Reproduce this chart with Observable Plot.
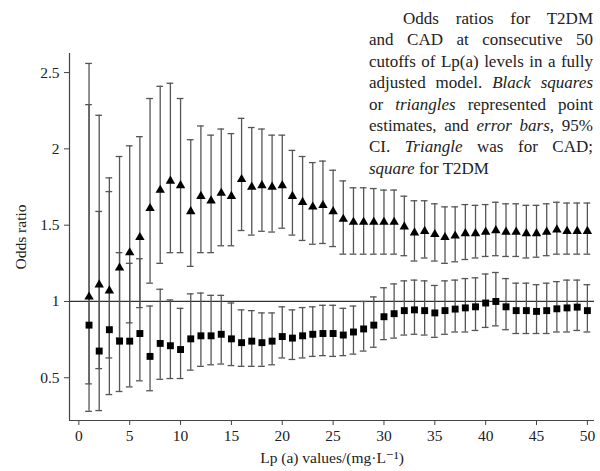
<!DOCTYPE html>
<html>
<head>
<meta charset="utf-8">
<script src="https://cdn.jsdelivr.net/npm/d3@7"></script>
<script src="https://cdn.jsdelivr.net/npm/@observablehq/plot@0.6"></script>
<style>
  html, body { margin: 0; padding: 0; background: #fff; }
  #wrap { position: relative; width: 600px; height: 471px; }
  #caption {
    position: absolute; left: 369px; top: 8px; width: 224px;
    font-family: "Liberation Serif", "DejaVu Serif", serif; font-size: 17px;
    line-height: 21.4px; color: #222;
  }
  #caption .ln { text-align: justify; text-align-last: justify; white-space: nowrap; }
  #caption .ln.first { margin-left: 34px; }
  #caption .ln.last { text-align: left; text-align-last: left; }
</style>
</head>
<body>
<div id="wrap">
  <div id="chart"></div>
  <div id="caption">
    <div class="ln first">Odds ratios for T2DM</div>
    <div class="ln">and CAD at consecutive 50</div>
    <div class="ln">cutoffs of Lp(a) levels in a fully</div>
    <div class="ln">adjusted model. <i>Black squares</i></div>
    <div class="ln">or <i>triangles</i> represented point</div>
    <div class="ln">estimates, and <i>error bars</i>, 95%</div>
    <div class="ln">CI. <i>Triangle</i> was for CAD;</div>
    <div class="ln last"><i>square</i> for T2DM</div>
  </div>
</div>
<script>
const cutoffs = d3.range(1, 51);

// CAD (triangles)
const cadOR = [1.03,1.11,1.07,1.22,1.32,1.42,1.61,1.73,1.79,1.76,
               1.59,1.69,1.66,1.71,1.69,1.80,1.75,1.76,1.75,1.76,
               1.69,1.65,1.62,1.63,1.59,1.54,1.52,1.52,1.52,1.52,
               1.52,1.49,1.45,1.46,1.44,1.42,1.43,1.445,1.445,1.455,
               1.465,1.455,1.455,1.445,1.445,1.455,1.47,1.46,1.46,1.46];
const cadHi = [2.29,2.22,1.81,1.95,2.02,2.08,2.33,2.41,2.43,2.33,
               2.06,2.15,2.09,2.13,2.10,2.20,2.14,2.13,2.09,2.09,
               1.99,1.95,1.91,1.92,1.86,1.79,1.745,1.745,1.74,1.73,
               1.73,1.69,1.66,1.66,1.64,1.62,1.62,1.635,1.63,1.635,
               1.65,1.64,1.64,1.63,1.63,1.64,1.65,1.645,1.645,1.645];
const cadLo = [0.46,0.56,0.63,0.76,0.86,0.96,1.12,1.25,1.32,1.32,
               1.23,1.32,1.32,1.365,1.365,1.465,1.435,1.46,1.455,1.48,
               1.435,1.40,1.375,1.38,1.36,1.31,1.31,1.31,1.31,1.31,
               1.31,1.30,1.265,1.285,1.265,1.25,1.26,1.275,1.285,1.295,
               1.30,1.295,1.295,1.285,1.29,1.30,1.31,1.31,1.31,1.31];

// T2DM (squares)
const t2OR = [0.845,0.675,0.815,0.74,0.74,0.79,0.64,0.725,0.71,0.685,
              0.755,0.775,0.775,0.785,0.755,0.73,0.74,0.73,0.74,0.77,
              0.76,0.775,0.785,0.79,0.79,0.78,0.80,0.82,0.845,0.90,
              0.92,0.94,0.945,0.94,0.925,0.94,0.95,0.958,0.965,0.99,
              1.00,0.965,0.94,0.94,0.935,0.94,0.952,0.958,0.963,0.94];
const t2Hi = [2.56,1.59,1.72,1.32,1.25,1.28,0.97,1.08,1.01,0.955,
              1.05,1.055,1.04,1.04,0.99,0.945,0.94,0.925,0.925,0.965,
              0.945,0.96,0.965,0.975,0.975,0.955,0.97,1.00,1.03,1.09,
              1.115,1.135,1.14,1.135,1.105,1.135,1.14,1.15,1.155,1.18,
              1.19,1.15,1.12,1.12,1.11,1.12,1.13,1.14,1.14,1.11];
const t2Lo = [0.28,0.285,0.39,0.41,0.44,0.48,0.415,0.49,0.495,0.495,
              0.55,0.575,0.585,0.59,0.58,0.575,0.575,0.575,0.585,0.63,
              0.62,0.63,0.64,0.645,0.64,0.645,0.655,0.675,0.70,0.75,
              0.76,0.78,0.785,0.78,0.765,0.785,0.80,0.80,0.81,0.83,
              0.84,0.815,0.79,0.79,0.79,0.79,0.80,0.80,0.81,0.80];

const xTicks = [0,5,10,15,20,25,30,35,40,45,50];
const yTicks = [0.5,1,1.5,2,2.5];
const xDomain = [-0.92, 50.7];
const yDomain = [0.22, 2.625];
const refOR = [1];

const data = cutoffs.map((c, i) => ({
  c, cad: cadOR[i], cadLo: cadLo[i], cadHi: cadHi[i],
  t2: t2OR[i], t2Lo: t2Lo[i], t2Hi: t2Hi[i]
}));

const cap = 0.33;
const barStyle = {stroke: "#555", strokeWidth: 1.3};
const capMark = (key) => Plot.ruleY(data, {y: key, x1: d => d.c - cap, x2: d => d.c + cap, ...barStyle});

const chart = Plot.plot({
  width: 600, height: 471,
  marginLeft: 69, marginRight: 6, marginTop: 53, marginBottom: 51,
  style: {fontFamily: "'Liberation Serif', 'DejaVu Serif', serif", fontSize: "15.5px", color: "#222", background: "#fff"},
  x: {domain: xDomain},
  y: {domain: yDomain},
  marks: [
    Plot.ruleY(refOR, {stroke: "#333", strokeWidth: 1.2}),
    Plot.ruleX(data, {x: "c", y1: "cadLo", y2: "cadHi", ...barStyle}),
    Plot.ruleX(data, {x: "c", y1: "t2Lo", y2: "t2Hi", ...barStyle}),
    capMark("cadLo"), capMark("cadHi"), capMark("t2Lo"), capMark("t2Hi"),
    Plot.dot(data, {x: "c", y: "cad", symbol: "triangle", fill: "#000", r: 3.5}),
    Plot.dot(data, {x: "c", y: "t2", symbol: "square", fill: "#000", r: 3.9}),
    Plot.axisX({ticks: xTicks, tickSize: 5, tickPadding: 4, stroke: "#444", tickFormat: d => String(d),
      label: "Lp (a) values/(mg·L⁻¹)", labelAnchor: "center", labelArrow: "none", labelOffset: 42}),
    Plot.axisY({ticks: yTicks, tickSize: 5, tickPadding: 5, stroke: "#444", tickFormat: d => String(d),
      label: "Odds ratio", labelAnchor: "center", labelArrow: "none", labelOffset: 55}),
    Plot.ruleX([xDomain[0]], {stroke: "#444", strokeWidth: 1.2}),
    Plot.ruleY([yDomain[0]], {stroke: "#444", strokeWidth: 1.2})
  ]
});
document.getElementById("chart").appendChild(chart);
</script>
</body>
</html>
